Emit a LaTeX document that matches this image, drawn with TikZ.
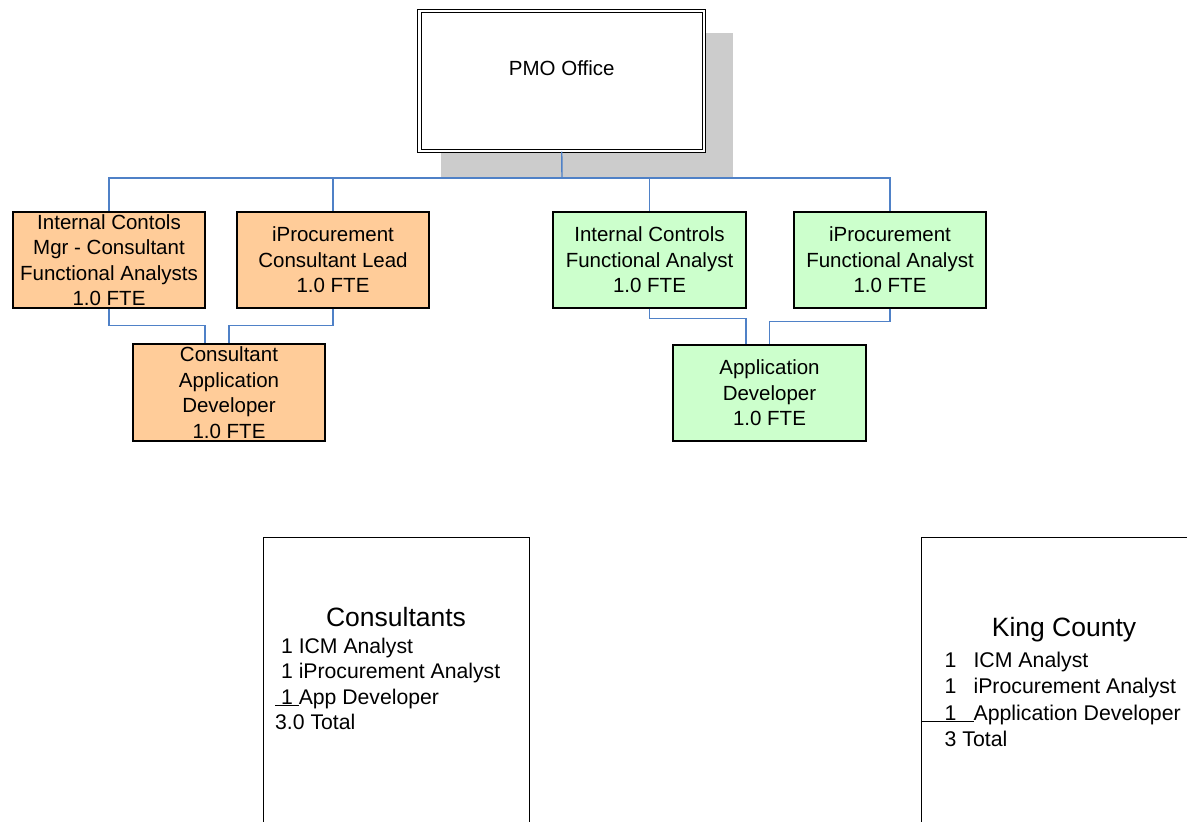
\documentclass[tikz,border=0pt]{standalone}
\usepackage{fontspec}
\setmainfont{Liberation Sans}
\usetikzlibrary{shadows}
\begin{document}
\begin{tikzpicture}[x=1pt,y=-1pt,
  conn/.style={draw=linkblue,line width=1.4pt},
  unit/.style={draw=black,line width=1.4pt,inner sep=0pt,align=center,
    minimum width=192pt,minimum height=96pt,
    font=\fontsize{20.5}{25.5}\selectfont},
  consult/.style={unit,fill=consultfill},
  county/.style={unit,fill=countyfill},
  office/.style={draw=black,double,double distance=2.5pt,line width=1.2pt,
    fill=white,minimum width=284.5pt,minimum height=140pt,inner sep=0pt,
    general shadow={fill=shadowgray,shadow xshift=24.25pt,shadow yshift=-23.5pt,
      shadow scale=1.027}},
  panel/.style={draw=black,line width=0.9pt},
  paneltitle/.style={font=\fontsize{26.5}{30}\selectfont,inner sep=0pt},
  panellist/.style={align=left,anchor=north west,inner sep=0pt}
]
\definecolor{linkblue}{RGB}{79,129,199}
\definecolor{consultfill}{RGB}{255,204,153}
\definecolor{countyfill}{RGB}{204,255,204}
\definecolor{shadowgray}{RGB}{204,204,204}

\clip (0,0) rectangle (1187,822);

% top office box with its offset shadow
\node[office,text height=0pt,text depth=11pt,font=\fontsize{20.5}{25.5}\selectfont]
  (pmo) at (561.75,81) {PMO Office};

% consultant side
\node[consult] (icmgr) at (109,260) {Internal Contols\\Mgr - Consultant\\Functional Analysts\\1.0 FTE};
\node[consult] (iplead) at (333,260) {iProcurement\\Consultant Lead\\1.0 FTE};
\node[consult,minimum height=97pt] (cdev) at (229,392.5) {Consultant\\Application\\Developer\\1.0 FTE};

% county side
\node[county,minimum width=193pt] (icfa) at (649.5,260) {Internal Controls\\Functional Analyst\\1.0 FTE};
\node[county] (ipfa) at (890,260) {iProcurement\\Functional Analyst\\1.0 FTE};
\node[county,minimum width=193pt] (adev) at (769.5,393) {Application\\Developer\\1.0 FTE};

% reporting lines
\coordinate (bus) at (562,178);
\draw[conn] (pmo.south) -- (bus);
\draw[conn] (bus) -| (icmgr.north);
\draw[conn] (bus) -| (iplead.north);
\draw[conn] (bus) -| (icfa.north);
\draw[conn] (bus) -| (ipfa.north);

\draw[conn] (icmgr.south) -- ++(0,17) -| ([xshift=-24pt]cdev.north);
\draw[conn] (iplead.south) -- ++(0,17) -| (cdev.north);
\draw[conn] (icfa.south) -- ++(0,10) -| ([xshift=-23.5pt]adev.north);
\draw[conn] (ipfa.south) -- ++(0,13) -| (adev.north);

% summary panels
\draw[panel] (263,830) -- (263,537) -- (529,537) -- (529,830);
\node[paneltitle] (ctitle) at (396,617) {Consultants};
\node[panellist,font=\fontsize{21.2}{25.3}\selectfont] (clist) at (275,638)
  {\ 1 ICM Analyst\\
   \ 1 iProcurement Analyst\\
   \underline{\ 1\ }App Developer\\
   3.0 Total};

\draw[panel] (921,830) -- (921,537) -- (1195,537);
\node[paneltitle] (ktitle) at (1064,629.5) {King County};
\node[panellist,font=\fontsize{21.3}{26.3}\selectfont] (klist) at (921,652)
  {\hspace{23.5pt}1\hspace{17pt}ICM Analyst\\
   \hspace{23.5pt}1\hspace{17pt}iProcurement Analyst\\
   \underline{\hspace{23.5pt}1\hspace{17pt}}Application Developer\\
   \hspace{23.5pt}3 Total};
\end{tikzpicture}
\end{document}
